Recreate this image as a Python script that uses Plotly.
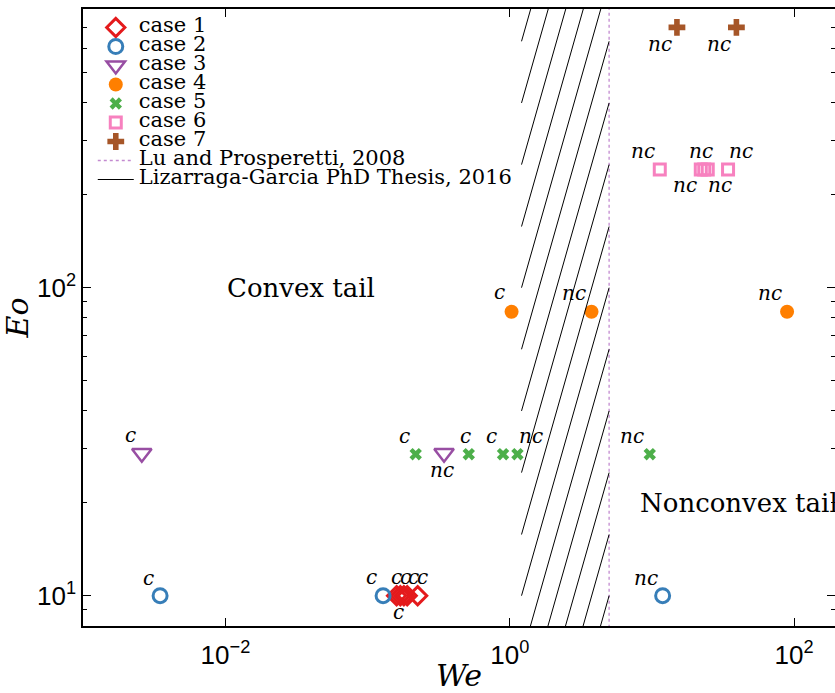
import math
import plotly.graph_objects as go

# ---------------- data ----------------
case_names = ["case 1", "case 2", "case 3", "case 4", "case 5", "case 6", "case 7"]

case1_we = [0.16, 0.17, 0.18, 0.19, 0.225]
case1_eo = [10, 10, 10, 10, 10]
case1_lbl = ["c", "c", "c", "c", "c"]

case2_we = [0.00347, 0.1285, 11.9]
case2_eo = [10, 10, 10]
case2_lbl = ["c", "c", "nc"]

case3_we = [0.00258, 0.345]
case3_eo = [29, 29]
case3_lbl = ["c", "nc"]

case4_we = [1.03, 3.76, 89.3]
case4_eo = [83.5, 83.5, 83.5]
case4_lbl = ["c", "nc", "nc"]

case5_we = [0.218, 0.515, 0.897, 1.133, 9.66]
case5_eo = [28.8, 28.8, 28.8, 28.8, 28.8]
case5_lbl = ["c", "c", "c", "nc", "nc"]

case6_we = [11.36, 22.07, 23.35, 24.71, 34.33]
case6_eo = [242, 242, 242, 242, 242]
case6_lbl = ["nc", "nc", "nc", "nc", "nc"]

case7_we = [15.0, 39.3]
case7_eo = [700, 700]
case7_lbl = ["nc", "nc"]

# Lu and Prosperetti (2008): vertical boundary
lu_we = [5.0, 5.0]
lu_eo = [1, 1000]

# Lizarraga-Garcia (2016): hatched band, segments from left to right edge
liz_we_left = 1.21
liz_we_right = 5.0
liz_eo_left = [631, 398, 251, 158, 100, 63.1, 39.8, 25.1, 15.8, 10.0, 6.31, 3.98, 2.51, 1.58, 1.0]
liz_eo_right = [6310, 3981, 2512, 1585, 1000, 631, 398, 251, 158, 100, 63.1, 39.8, 25.1, 15.8, 10.0]

x_tick_vals = [0.01, 1, 100]
x_tick_text = ["10<sup>\u22122</sup>", "10<sup>0</sup>", "10<sup>2</sup>"]
y_tick_vals = [10, 100]
y_tick_text = ["10<sup>1</sup>", "10<sup>2</sup>"]
y_minor_vals = [9, 20, 30, 40, 50, 60, 70, 80, 90, 200, 300, 400, 500, 600, 700, 800]

region_text = ["Convex tail", "Nonconvex tail"]
region_we = [0.01, 8]
region_eo = [100, 20]

# ---------------- styles ----------------
SERIF = "DejaVu Serif"
SANS = "Liberation Sans"

styles = [
    dict(symbol="diamond-open", color="#e41a1c", size=14, lw=3),
    dict(symbol="circle-open", color="#377eb8", size=14, lw=3),
    dict(symbol="triangle-down-open", color="#984ea3", size=17, lw=2.5),
    dict(symbol="circle", color="#ff7f00", size=14, lw=0),
    dict(symbol="x", color="#4daf4a", size=11, lw=0),
    dict(symbol="square-open", color="#f781bf", size=11, lw=3),
    dict(symbol="cross", color="#a65628", size=14, lw=0),
]

# label offsets in screen pixels (dx right, dy down) for each point
label_offsets = [
    [(1.4, 18.3), (-3.9, -16.7), (1.9, -16.7), (5.8, -16.7), (4.4, -16.7)],
    [(-12, -16), (-11.6, -17), (-16.4, -16)],
    [(-11, -16.3), (-2, 18.4)],
    [(-11.7, -17.5), (-17.7, -16.5), (-16.8, -16.5)],
    [(-11.7, -16), (-3.7, -16), (-11.3, -16), (13.3, -16), (-18, -16)],
    [(-16.7, -16), (-16, 17.4), (-2.8, -16), (12, 17.4), (13.4, -16)],
    [(-16.5, 18.7), (-17.2, 18.7)],
]
LABEL_DY_CORR = -2  # global vertical correction (x-height centre vs. box middle)

cases = [
    (case1_we, case1_eo, case1_lbl),
    (case2_we, case2_eo, case2_lbl),
    (case3_we, case3_eo, case3_lbl),
    (case4_we, case4_eo, case4_lbl),
    (case5_we, case5_eo, case5_lbl),
    (case6_we, case6_eo, case6_lbl),
    (case7_we, case7_eo, case7_lbl),
]

LEG_SPAN = '<span style="font-family:DejaVu Serif;font-size:21px">{}</span>'

fig = go.Figure()
annotations = []
for i, ((we, eo, lbl), st) in enumerate(zip(cases, styles)):
    fig.add_trace(go.Scatter(
        x=we, y=eo, mode="markers", name=LEG_SPAN.format(case_names[i]),
        marker=dict(symbol=st["symbol"], color=st["color"], size=st["size"],
                    line=dict(color=st["color"], width=st["lw"])),
    ))
    for (xv, yv, t, (dx, dy)) in zip(we, eo, lbl, label_offsets[i]):
        # annotation coordinates on log axes are given in log10 units
        annotations.append(dict(
            x=math.log10(xv), y=math.log10(yv), xref="x", yref="y",
            text="<i>%s</i>" % t, showarrow=False,
            xshift=dx, yshift=-(dy + LABEL_DY_CORR), xanchor="center", yanchor="middle",
            font=dict(family=SERIF, size=20, color="black"),
        ))

fig.add_trace(go.Scatter(
    x=lu_we, y=lu_eo, mode="lines", name=LEG_SPAN.format("Lu and Prosperetti, 2008"),
    line=dict(color="#c38ad0", width=1.3, dash="3px,3px"),
))

hx, hy = [], []
for a, b in zip(liz_eo_left, liz_eo_right):
    hx += [liz_we_left, liz_we_right, None]
    hy += [a, b, None]
fig.add_trace(go.Scatter(
    x=hx, y=hy, mode="lines", name=LEG_SPAN.format("Lizarraga-Garcia PhD Thesis, 2016"),
    line=dict(color="black", width=1),
))

for t, xv, yv in zip(region_text, region_we, region_eo):
    annotations.append(dict(
        x=math.log10(xv), y=math.log10(yv), xref="x", yref="y", text=t, showarrow=False,
        xanchor="left", yanchor="middle", font=dict(family=SERIF, size=26, color="black"),
    ))

fig.update_layout(
    width=835, height=693,
    margin=dict(l=83, r=0, t=9, b=67),
    paper_bgcolor="white", plot_bgcolor="white",
    annotations=annotations,
    showlegend=True,
    legend=dict(x=0.013, y=1 - 4 / 617, xanchor="left", yanchor="top",
                bgcolor="rgba(0,0,0,0)", borderwidth=0,
                font=dict(family=SERIF, size=12.3, color="black"),
                itemwidth=36, tracegroupgap=0),
    xaxis=dict(type="log", range=[-3.002, 2.288], showgrid=False, zeroline=False,
               showline=True, linecolor="black", linewidth=1.5, mirror="ticks",
               ticks="inside", ticklen=8, tickwidth=1, tickcolor="black",
               tickvals=x_tick_vals, ticktext=x_tick_text, ticklabelstandoff=5,
               tickfont=dict(family=SANS, size=26, color="black"),
               title=dict(text="<i>We</i>", font=dict(family=SERIF, size=30, color="black"), standoff=8),
               automargin=False),
    yaxis=dict(type="log", range=[0.9016, 2.9049], showgrid=False, zeroline=False,
               showline=True, linecolor="black", linewidth=1.5, mirror="ticks",
               ticks="inside", ticklen=8, tickwidth=1, tickcolor="black",
               tickvals=y_tick_vals, ticktext=y_tick_text,
               tickfont=dict(family=SANS, size=26, color="black"),
               minor=dict(tickvals=y_minor_vals, ticks="inside", ticklen=4.5, tickcolor="black", tickwidth=1),
               title=dict(text="<i>Eo</i>", font=dict(family=SERIF, size=30, color="black"), standoff=0),
               automargin=False),
)

fig.write_html("out.html")
